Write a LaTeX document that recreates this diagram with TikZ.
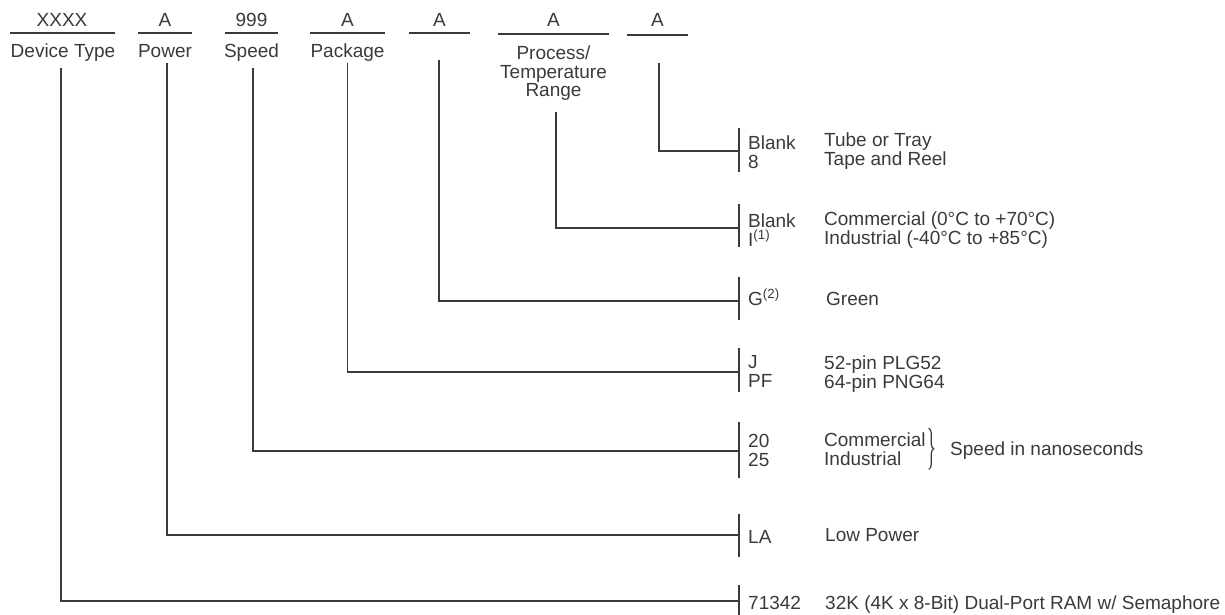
\documentclass[tikz,border=0pt]{standalone}
\usepackage{fontspec}
\setmainfont{Liberation Sans}
\usetikzlibrary{decorations.pathreplacing}
\definecolor{ink}{HTML}{3A3A36}

\begin{document}
\begin{tikzpicture}[x=1pt, y=-1pt, every node/.style={font=\fontsize{19}{18.8}\selectfont, text=ink, inner sep=0pt}, rule/.style={ink, line width=1.6pt}, conn/.style={ink, line width=1.6pt}]
	\useasboundingbox (0,0) rectangle (1225,615);
	\node[anchor=base] (devtype-val) at (62,27) {XXXX};
	\draw[rule] (10,33) -- (115,33);
	\node[anchor=base] (devtype) at (63,58) {Device Type};
	\node[anchor=base] (power-val) at (165,27) {A};
	\draw[rule] (138,33) -- (192,33);
	\node[anchor=base] (power) at (165,58) {Power};
	\node[anchor=base] (speed-val) at (251.5,27) {999};
	\draw[rule] (225,33) -- (278,33);
	\node[anchor=base] (speed) at (251.5,58) {Speed};
	\node[anchor=base] (package-val) at (347.5,27) {A};
	\draw[rule] (310,33) -- (385,33);
	\node[anchor=base] (package) at (347.5,58) {Package};
	\node[anchor=base] (green-val) at (439.5,27) {A};
	\draw[rule] (409,33) -- (470,33);
	\coordinate (green-top) at (439,60);
	\node[anchor=base] (process-val) at (553.5,27) {A};
	\draw[rule] (498,34) -- (609,34);
	\node[anchor=base, align=center] (process) at (553.5,97) {Process/\\Temperature\\Range};
	\node[anchor=base] (tape-val) at (657.5,27) {A};
	\draw[rule] (627,35) -- (688,35);
	\coordinate (tape-top) at (659,63);

	\foreach \name/\y/\up/\down in {tape/151/23/21, temp/228/24/19, green/301/24/19, pkg/372/24/20, speed/451/29/27, power/535/21/22, device/601/16/16} {
		\coordinate (bar-\name) at (739,\y);
		\draw[rule] ([yshift=\up]bar-\name) -- ([yshift=-\down]bar-\name);
	}

	\draw[conn] ([xshift=-2pt,yshift=-6pt]devtype.south) |- (bar-device);
	\draw[conn] ([xshift=2pt,yshift=-5pt]power.south) |- (bar-power);
	\draw[conn] ([xshift=1.5pt,yshift=-6pt]speed.south) |- (bar-speed);
	\draw[conn] ([yshift=-1pt]package.south) |- (bar-pkg);
	\draw[conn] (green-top) |- (bar-green);
	\draw[conn] ([xshift=2.5pt,yshift=-11pt]process.south) |- (bar-temp);
	\draw[conn] (tape-top) |- (bar-tape);

	\node[anchor=base west, align=left] (tape-code) at (748,168) {Blank\\8};
	\node[anchor=base west, align=left] (tape-desc) at (824,165) {Tube or Tray\\Tape and Reel};
	\node[anchor=base west, align=left] (temp-code) at (748,246) {Blank\\I\textsuperscript{(1)}};
	\node[anchor=base west, align=left] (temp-desc) at (824,244) {Commercial (0°C to +70°C)\\Industrial (-40°C to +85°C)};
	\node[anchor=base west] (green-code) at (748,305) {G\textsuperscript{(2)}};
	\node[anchor=base west] (green-desc) at (826,305) {Green};
	\node[anchor=base west, align=left] (pkg-code) at (748,387) {J\\PF};
	\node[anchor=base west, align=left] (pkg-desc) at (824,388) {52-pin PLG52\\64-pin PNG64};
	\node[anchor=base west, align=left] (speed-code) at (748,466) {20\\25};
	\node[anchor=base west, align=left] (speed-desc) at (824,465) {Commercial\\Industrial};
	\draw[ink, line width=1.2pt, decorate, decoration={brace, amplitude=5pt}] ([xshift=3pt,yshift=4pt]speed-desc.north east) -- ([xshift=3pt,yshift=-4pt]speed-desc.south east);
	\node[anchor=base west] (speed-note) at (950,455) {Speed in nanoseconds};
	\node[anchor=base west] (power-code) at (748,543) {LA};
	\node[anchor=base west] (power-desc) at (825,541) {Low Power};
	\node[anchor=base west] (device-code) at (748,609) {71342};
	\node[anchor=base west] (device-desc) at (825,609) {32K (4K x 8-Bit) Dual-Port RAM w/ Semaphore};
\end{tikzpicture}
\end{document}
